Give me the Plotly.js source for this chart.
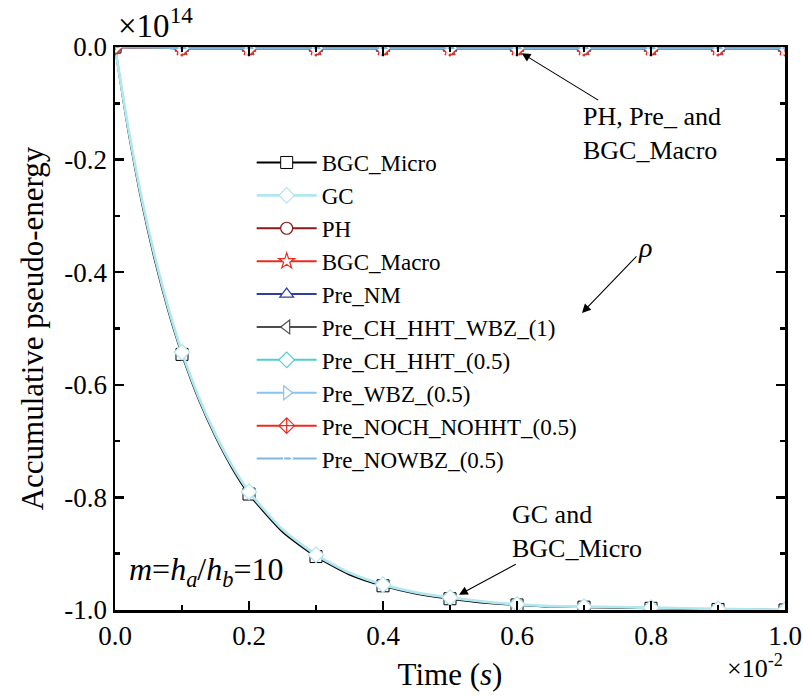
<!DOCTYPE html>
<html>
<head>
<meta charset="utf-8">
<script src="https://cdn.plot.ly/plotly-3.0.1.min.js"></script>
<style>html,body{margin:0;padding:0;background:#fff;}#chart{width:803px;height:697px;}</style>
</head>
<body>
<div id="chart"></div>
<script>
// Time in units of 1e-2 s, energy in units of 1e14
const tCurve = [0, 0.02, 0.04, 0.06, 0.08, 0.1, 0.125, 0.15, 0.175, 0.2, 0.25, 0.3, 0.35, 0.4, 0.45, 0.5, 0.55, 0.6, 0.65, 0.7, 0.8, 0.9, 1.0];
const gcVals = [0, -0.145, -0.27, -0.375, -0.465, -0.542, -0.622, -0.688, -0.744, -0.79, -0.857, -0.902, -0.934, -0.955, -0.969, -0.978, -0.985, -0.99, -0.993, -0.994, -0.996, -0.998, -1.0];
const bgcMicroVals = [0, -0.15, -0.276, -0.381, -0.47, -0.546, -0.626, -0.692, -0.748, -0.794, -0.861, -0.905, -0.937, -0.957, -0.971, -0.98, -0.987, -0.991, -0.994, -0.995, -0.997, -0.999, -1.0];

const tTop = [0, 0.1, 0.2, 0.3, 0.4, 0.5, 0.6, 0.7, 0.8, 0.9, 1.0];
const phVals = [0, -0.002, -0.002, -0.002, -0.002, -0.002, -0.002, -0.002, -0.002, -0.002, -0.002];
const bgcMacroVals = [0, -0.002, -0.002, -0.002, -0.002, -0.002, -0.002, -0.002, -0.002, -0.002, -0.002];
const preNMVals = [0, -0.002, -0.002, -0.002, -0.002, -0.002, -0.002, -0.002, -0.002, -0.002, -0.002];
const preCHHHTWBZ1Vals = [0, -0.002, -0.002, -0.002, -0.002, -0.002, -0.002, -0.002, -0.002, -0.002, -0.002];
const preCHHHT05Vals = [0, -0.002, -0.002, -0.002, -0.002, -0.002, -0.002, -0.002, -0.002, -0.002, -0.002];
const preWBZ05Vals = [0, -0.002, -0.002, -0.002, -0.002, -0.002, -0.002, -0.002, -0.002, -0.002, -0.002];
const preNOCHNOHHT05Vals = [0, -0.002, -0.002, -0.002, -0.002, -0.002, -0.002, -0.002, -0.002, -0.002, -0.002];
const preNOWBZ05Vals = [0, -0.002, -0.002, -0.002, -0.002, -0.002, -0.002, -0.002, -0.002, -0.002, -0.002];

const seriesNames = ['BGC_Micro', 'GC', 'PH', 'BGC_Macro', 'Pre_NM', 'Pre_CH_HHT_WBZ_(1)', 'Pre_CH_HHT_(0.5)', 'Pre_WBZ_(0.5)', 'Pre_NOCH_NOHHT_(0.5)', 'Pre_NOWBZ_(0.5)'];

const xTickVals = [0, 0.2, 0.4, 0.6, 0.8, 1.0];
const xTickText = ['0.0', '0.2', '0.4', '0.6', '0.8', '1.0'];
const yTickVals = [0, -0.2, -0.4, -0.6, -0.8, -1.0];
const yTickText = ['0.0', '-0.2', '-0.4', '-0.6', '-0.8', '-1.0'];

const FONT = 'Liberation Serif';
// indices of the points that carry a marker (every 0.1 on the time axis)
const markIdx = xs => xs.map((x, i) => (Math.abs(x * 10 - Math.round(x * 10)) < 1e-6 ? i : -1)).filter(i => i >= 0);

function curveTrace(name, x, y, color, width, symbol, mlw) {
  return {
    type: 'scatter', mode: 'lines+markers', name: name, x: x, y: y,
    line: {color: color, width: width, shape: 'spline', smoothing: 0.6},
    marker: {symbol: symbol, size: 12, color: '#ffffff', line: {color: color, width: mlw}},
    selectedpoints: markIdx(x),
    selected: {marker: {opacity: 1}},
    unselected: {marker: {opacity: 0}}
  };
}
function topTrace(name, y, color, symbol) {
  return {
    type: 'scatter', mode: 'lines+markers', name: name, x: tTop, y: y,
    line: {color: color, width: 2},
    marker: {symbol: symbol, size: 12, color: '#ffffff', line: {color: color, width: 1.2}}
  };
}

const data = [
  curveTrace(seriesNames[0], tCurve, bgcMicroVals, '#000000', 2, 'square', 1),
  curveTrace(seriesNames[1], tCurve, gcVals, '#B2E6F0', 2.8, 'diamond', 1.2),
  topTrace(seriesNames[2], phVals, '#8B1A1A', 'circle'),
  topTrace(seriesNames[3], bgcMacroVals, '#EE2A1E', 'star'),
  topTrace(seriesNames[4], preNMVals, '#2E3F9E', 'triangle-up'),
  topTrace(seriesNames[5], preCHHHTWBZ1Vals, '#4D4D4D', 'triangle-left'),
  topTrace(seriesNames[6], preCHHHT05Vals, '#4FCFCF', 'diamond'),
  topTrace(seriesNames[7], preWBZ05Vals, '#86C4EC', 'triangle-right'),
  topTrace(seriesNames[8], preNOCHNOHHT05Vals, '#EE2A1E', 'diamond-cross'),
  topTrace(seriesNames[9], preNOWBZ05Vals, '#7FB6E2', 'triangle-right-open')
];

const axisCommon = {
  showline: true, linewidth: 2.5, linecolor: '#000', mirror: 'ticks',
  ticks: 'inside', ticklen: 9, tickwidth: 2.5, tickcolor: '#000',
  showgrid: false, zeroline: false, automargin: false,
  tickfont: {family: FONT, size: 27, color: '#000'}
};

const arrowStyle = {showarrow: true, arrowhead: 2, arrowsize: 1.6, arrowwidth: 1.1, arrowcolor: '#000', standoff: 0,
                    axref: 'x', ayref: 'y', xref: 'x', yref: 'y'};

const layout = {
  width: 803, height: 697,
  margin: {l: 115, r: 18, t: 47, b: 87, pad: 0},
  paper_bgcolor: '#fff', plot_bgcolor: '#fff',
  font: {family: FONT, color: '#000'},
  showlegend: true,
  legend: {x: 0.204, y: 0.833, xanchor: 'left', yanchor: 'top', bgcolor: 'rgba(0,0,0,0)', borderwidth: 0,
           font: {family: FONT, size: 23, color: '#000'}, tracegroupgap: 0, itemwidth: 60},
  xaxis: Object.assign({}, axisCommon, {
    range: [0, 1], tickmode: 'array', tickvals: xTickVals, ticktext: xTickText,
    minor: {tickmode: 'linear', tick0: 0, dtick: 0.1, ticks: 'inside', ticklen: 5, tickwidth: 2.5, tickcolor: '#000', showgrid: false},
    title: {text: 'Time (<i>s</i>)', font: {family: FONT, size: 31, color: '#000'}, standoff: 14}
  }),
  yaxis: Object.assign({}, axisCommon, {
    range: [-1, 0], tickmode: 'array', tickvals: yTickVals, ticktext: yTickText,
    minor: {tickmode: 'linear', tick0: 0, dtick: 0.1, ticks: 'inside', ticklen: 5, tickwidth: 2.5, tickcolor: '#000', showgrid: false},
    title: {text: 'Accumulative pseudo-energy', font: {family: FONT, size: 31, color: '#000'}, standoff: 12}
  }),
  annotations: [
    {xref: 'paper', yref: 'paper', x: 0.002, y: 1.042, xanchor: 'left', yanchor: 'middle', showarrow: false,
     text: '×10<sup>14</sup>', font: {family: FONT, size: 33, color: '#000'}},
    {xref: 'paper', yref: 'paper', x: 1.0, y: -0.1, xanchor: 'right', yanchor: 'middle', showarrow: false,
     text: '×10<sup>-2</sup>', font: {family: FONT, size: 26, color: '#000'}},
    Object.assign({}, arrowStyle, {x: 0.607, y: -0.011, ax: 0.8015, ay: -0.153, align: 'left',
     text: 'PH, Pre_ and<br>BGC_Macro', font: {family: FONT, size: 26, color: '#000'}}),
    Object.assign({}, arrowStyle, {x: 0.697, y: -0.4725, ax: 0.791, ay: -0.356,
     text: '<i>ρ</i>', font: {family: FONT, size: 28, color: '#000'}}),
    Object.assign({}, arrowStyle, {x: 0.5134, y: -0.973, ax: 0.6896, ay: -0.86, align: 'left',
     text: 'GC and<br>BGC_Micro', font: {family: FONT, size: 26, color: '#000'}}),
    {xref: 'paper', yref: 'paper', x: 0.018, y: 0.068, xanchor: 'left', yanchor: 'middle', showarrow: false,
     text: '<i>m</i>=<i>h<sub>a</sub></i>/<i>h<sub>b</sub></i>=10', font: {family: FONT, size: 32, color: '#000'}}
  ]
};

Plotly.newPlot('chart', data, layout, {displayModeBar: false, staticPlot: true});
</script>
</body>
</html>
